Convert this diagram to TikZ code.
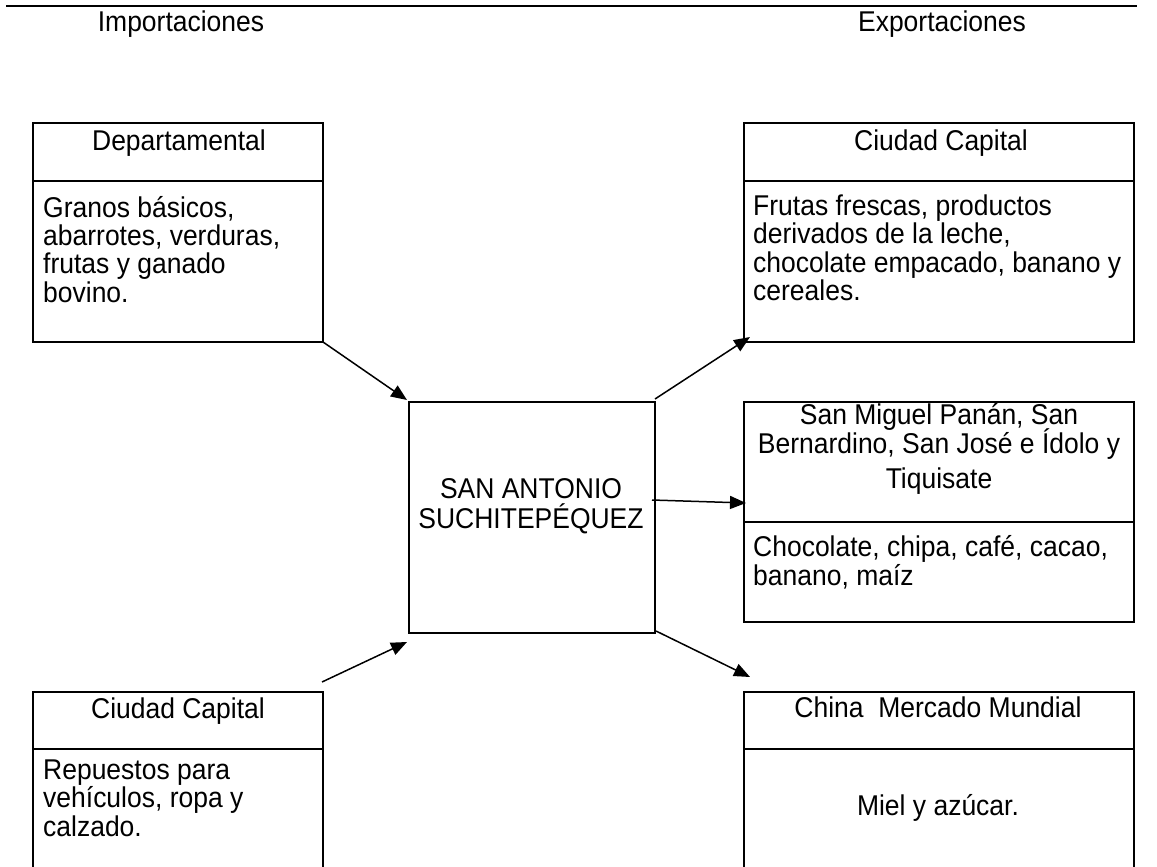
\documentclass[tikz,border=0pt]{standalone}
\usepackage{fontspec}
\setmainfont{Liberation Sans}
\newfontfamily\tallsans{Liberation Sans}[FakeStretch=0.926]
\usetikzlibrary{arrows.meta,calc}
\newcommand\mytxt{\tallsans\fontsize{28.6pt}{28.3pt}\selectfont\lineskiplimit=-100pt\relax}
\begin{document}
\begin{tikzpicture}[x=1pt,y=1pt,
  box/.style={draw, line width=2pt, rectangle, inner sep=0pt, outer sep=0pt},
  divline/.style={line width=2pt},
  hdr/.style={font=\mytxt, anchor=base, align=center, inner sep=0pt},
  body/.style={font=\mytxt, anchor=base west, align=left, inner sep=0pt},
  conn/.style={line width=1.5pt, -{Triangle[length=16pt,width=13pt]}}
]
\useasboundingbox (0,0) rectangle (1157,-867);
\clip (0,0) rectangle (1157,-867);

% top rule
\coordinate (rl) at (6,-6.5);
\coordinate (rr) at (1137,-6.5);
\draw[line width=2pt] (rl) -- (rr);
\node[hdr] (imp) at (181,-32) {Importaciones};
\node[hdr] (exp) at (942,-32) {Exportaciones};

% boxes
\node[box, minimum width=290pt, minimum height=219pt] (dep) at (178,-232.5) {};
\node[box, minimum width=390pt, minimum height=219pt] (cc1) at (939,-232.5) {};
\node[box, minimum width=390pt, minimum height=220pt] (sm)  at (939,-512) {};
\node[box, minimum width=246pt, minimum height=231pt] (ctr) at (532,-517.5) {};
\node[box, minimum width=290pt, minimum height=208pt] (cc2) at (178,-796) {};
\node[box, minimum width=390pt, minimum height=208pt] (ch)  at (939,-796) {};

% dividers
\draw[divline] ([yshift=-58pt]dep.north west) -- ([yshift=-58pt]dep.north east);
\draw[divline] ([yshift=-58pt]cc1.north west) -- ([yshift=-58pt]cc1.north east);
\draw[divline] ([yshift=-120pt]sm.north west) -- ([yshift=-120pt]sm.north east);
\draw[divline] ([yshift=-57pt]cc2.north west) -- ([yshift=-57pt]cc2.north east);
\draw[divline] ([yshift=-57pt]ch.north west) -- ([yshift=-57pt]ch.north east);

% texts (multi-line nodes: base anchor = baseline of last line)
\node[hdr] (depH) at (179,-150) {Departamental};
\node[body] (depB) at (43,-302) {Granos básicos,\\abarrotes, verduras,\\frutas y ganado\\bovino.};

\node[hdr] (cc1H) at (941,-150) {Ciudad Capital};
\node[body] (cc1B) at (753,-300.5) {Frutas frescas, productos\\derivados de la leche,\\chocolate empacado, banano y\\cereales.};

\node[hdr] (smH) at (939,-488) {San Miguel Panán, San\\Bernardino, San José e Ídolo y\\[6.7pt]Tiquisate};
\node[body] (smB) at (753,-585) {Chocolate, chipa, café, cacao,\\banano, maíz};

\node[hdr] (ctrT) at (531,-528) {SAN ANTONIO\\[1.7pt]SUCHITEPÉQUEZ};

\node[hdr] (cc2H) at (178,-718) {Ciudad Capital};
\node[body] (cc2B) at (43,-836) {Repuestos para\\vehículos, ropa y\\calzado.};

\node[hdr] (chH) at (938,-717) {China~~Mercado Mundial};
\node[hdr] (chB) at (938,-815) {Miel y azúcar.};

% connectors
\draw[conn] (dep.south east) -- ([xshift=-2pt,yshift=2pt]ctr.north west);
\draw[conn] ([yshift=3pt]ctr.north east) -- ([xshift=6pt,yshift=5pt]cc1.south west);
\draw[conn] ([xshift=-3pt,yshift=17.5pt]ctr.east) -- ([xshift=2pt,yshift=9pt]sm.west);
\draw[conn] ([xshift=1pt,yshift=2pt]ctr.south east) -- ([xshift=6pt,yshift=15pt]ch.north west);
\draw[conn] ([xshift=-1pt,yshift=10pt]cc2.north east) -- ([xshift=-2pt,yshift=-9pt]ctr.south west);
\end{tikzpicture}
\end{document}
